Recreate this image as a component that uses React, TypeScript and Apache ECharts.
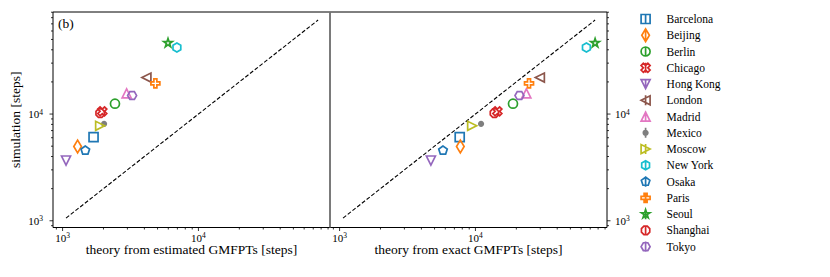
import React, { useEffect, useRef } from 'react';
import * as echarts from 'echarts';

// ---------- data ----------
const cities = ['Barcelona', 'Beijing', 'Berlin', 'Chicago', 'Hong Kong', 'London', 'Madrid', 'Mexico', 'Moscow', 'New York', 'Osaka', 'Paris', 'Seoul', 'Shanghai', 'Tokyo'];
const simulationSteps = [6080, 4960, 12500, 10600, 3670, 22000, 15600, 8100, 7760, 42000, 4560, 19400, 46300, 10200, 14900];
const estimatedTheory = [1690, 1290, 2430, 1960, 1060, 4140, 2960, 2020, 1890, 6940, 1470, 4820, 5970, 1890, 3250];
const exactTheory = [7660, 7740, 18900, 14500, 4700, 29800, 23700, 11000, 9460, 65600, 5770, 24800, 76000, 13800, 21100];
const diagonal = [1060, 76000];
const majorTicks = [1000, 10000];
const minorTicks = [900, 2000, 3000, 4000, 5000, 6000, 7000, 8000, 9000, 20000, 30000, 40000, 50000, 60000, 70000, 80000, 90000];
const xTitles = ['theory from estimated GMFPTs [steps]', 'theory from exact GMFPTs [steps]'];
const yTitle = 'simulation [steps]';
const panelLabel = '(b)';

// ---------- styles ----------
const X_MIN = 850, X_MAX = 93000, Y_MIN = 865, Y_MAX = 90400;
const FONT = '"Liberation Serif", "Times New Roman", serif';
const colors = ['#1f77b4', '#ff7f0e', '#2ca02c', '#d62728', '#9467bd', '#8c564b', '#e377c2', '#7f7f7f', '#bcbd22', '#17becf', '#1f77b4', '#ff7f0e', '#2ca02c', '#d62728', '#9467bd'];
const markers = ['square', 'thinDiamond', 'circle', 'xFilled', 'triDown', 'triLeft', 'triUp', 'point', 'triRight', 'hexagon1', 'pentagon', 'plusFilled', 'star', 'octagon', 'hexagon2'];
const MS = 9;
const BOX = 1.5;
const STROKE = 1.7;

const f = (n: number) => n.toFixed(4);
const poly = (pts: number[][]) => 'M' + pts.map(p => f(p[0]) + ' ' + f(p[1])).join(' L') + ' Z';
const regular = (n: number, r: number, startDeg: number) =>
  Array.from({ length: n }, (_, k) => {
    const a = ((startDeg + (k * 360) / n) * Math.PI) / 180;
    return [r * Math.cos(a), -r * Math.sin(a)];
  });
const circ = (r: number) => `M${f(r)} 0 A${f(r)} ${f(r)} 0 1 1 ${f(-r)} 0 A${f(r)} ${f(r)} 0 1 1 ${f(r)} 0 Z`;

function shapePath(m: string): string {
  switch (m) {
    case 'square': return poly([[-0.5, -0.5], [0.5, -0.5], [0.5, 0.5], [-0.5, 0.5]]);
    case 'thinDiamond': return poly([[0, -0.707], [0.424, 0], [0, 0.707], [-0.424, 0]]);
    case 'circle': return circ(0.5);
    case 'point': return circ(0.25);
    case 'xFilled': return poly([[-1, -2], [0, -1], [1, -2], [2, -1], [1, 0], [2, 1], [1, 2], [0, 1], [-1, 2], [-2, 1], [-1, 0], [-2, -1]].map(p => [p[0] / 4, p[1] / 4]));
    case 'plusFilled': return poly([[-1, -3], [1, -3], [1, -1], [3, -1], [3, 1], [1, 1], [1, 3], [-1, 3], [-1, 1], [-3, 1], [-3, -1], [-1, -1]].map(p => [p[0] / 6, p[1] / 6]));
    case 'triDown': return poly([[-0.5, -0.5], [0.5, -0.5], [0, 0.5]]);
    case 'triUp': return poly([[0, -0.5], [0.5, 0.5], [-0.5, 0.5]]);
    case 'triLeft': return poly([[-0.5, 0], [0.5, -0.5], [0.5, 0.5]]);
    case 'triRight': return poly([[0.5, 0], [-0.5, 0.5], [-0.5, -0.5]]);
    case 'hexagon1': return poly(regular(6, 0.5, 90));
    case 'hexagon2': return poly(regular(6, 0.5, 0));
    case 'pentagon': return poly(regular(5, 0.5, 90));
    case 'octagon': return poly(regular(8, 0.5, 22.5));
    case 'star': {
      const pts: number[][] = [];
      for (let k = 0; k < 10; k++) {
        const r = k % 2 === 0 ? 0.5 : 0.5 * 0.381966;
        const a = ((90 + k * 36) * Math.PI) / 180;
        pts.push([r * Math.cos(a), -r * Math.sin(a)]);
      }
      return poly(pts);
    }
  }
  return poly([[-0.5, -0.5], [0.5, -0.5], [0.5, 0.5], [-0.5, 0.5]]);
}
const anchor = `M${-BOX / 2} ${-BOX / 2} M${BOX / 2} ${BOX / 2} `;
const markerSymbol = (i: number) => 'path://' + anchor + shapePath(markers[i]);
const legendSymbol = (i: number) => 'path://' + anchor + shapePath(markers[i]) + ' M0 -0.56 L0 0.56';
const fillOf = (i: number) => (markers[i] === 'point' ? colors[i] : 'transparent');

const supLabel = (v: number) => {
  const e = Math.log10(v);
  if (Math.abs(e - Math.round(e)) > 1e-6) return '';
  return `{m|10}{e|${Math.round(e)}}`;
};
const richLabel = {
  m: { fontFamily: FONT, fontSize: 11, color: '#000', lineHeight: 12 },
  e: { fontFamily: FONT, fontSize: 7.5, color: '#000', lineHeight: 7, verticalAlign: 'top' },
};

function tickSeries(grid: number, side: 'bottom' | 'left' | 'right') {
  const isX = side === 'bottom';
  const lo = isX ? X_MIN : Y_MIN;
  const hi = isX ? X_MAX : Y_MAX;
  const all = [...majorTicks.map(v => [v, 3.5]), ...minorTicks.map(v => [v, 2])].filter(t => t[0] >= lo && t[0] <= hi);
  return {
    type: 'custom',
    name: 'ticks' + grid + side,
    xAxisIndex: grid,
    yAxisIndex: grid,
    silent: true,
    clip: false,
    z: 10,
    data: all.map(t => (isX ? [t[0], 1000, t[1]] : [1000, t[0], t[1]])),
    renderItem: (params: any, api: any) => {
      const pt = api.coord([api.value(0), api.value(1)]);
      const len = api.value(2);
      const cs = params.coordSys;
      let shape;
      if (side === 'bottom') {
        const yb = cs.y + cs.height;
        shape = { x1: pt[0], y1: yb, x2: pt[0], y2: yb + len };
      } else if (side === 'left') {
        shape = { x1: cs.x, y1: pt[1], x2: cs.x - len, y2: pt[1] };
      } else {
        const xr = cs.x + cs.width;
        shape = { x1: xr, y1: pt[1], x2: xr + len, y2: pt[1] };
      }
      return { type: 'line', shape, style: { stroke: '#000', lineWidth: 0.8 } };
    },
  };
}

function buildOption() {
  const grids = [
    { left: 53, top: 12, width: 277, height: 215.5, show: true, borderColor: '#000', borderWidth: 1, outerBoundsMode: 'none' },
    { left: 330, top: 12, width: 277, height: 215.5, show: true, borderColor: '#000', borderWidth: 1, outerBoundsMode: 'none' },
  ];
  const xAxes = [0, 1].map(g => ({
    type: 'log',
    gridIndex: g,
    min: X_MIN,
    max: X_MAX,
    name: xTitles[g],
    nameLocation: 'middle',
    nameGap: 15,
    nameMoveOverlap: false,
    nameTextStyle: { fontFamily: FONT, fontSize: 13.5, color: '#000', verticalAlign: 'top', lineHeight: 14 },
    axisLine: { show: false },
    axisTick: { show: false },
    splitLine: { show: false },
    minorTick: { show: false },
    axisLabel: { formatter: supLabel, rich: richLabel, margin: 4, showMinLabel: false, showMaxLabel: false, hideOverlap: false },
  }));
  const yAxes = [0, 1].map(g => ({
    type: 'log',
    gridIndex: g,
    min: Y_MIN,
    max: Y_MAX,
    position: g === 0 ? 'left' : 'right',
    name: g === 0 ? yTitle : '',
    nameLocation: 'middle',
    nameGap: 31,
    nameMoveOverlap: false,
    nameTextStyle: { fontFamily: FONT, fontSize: 13.5, color: '#000' },
    axisLine: { show: false },
    axisTick: { show: false },
    splitLine: { show: false },
    minorTick: { show: false },
    axisLabel: { formatter: supLabel, rich: richLabel, margin: g === 0 ? 10 : 8, showMinLabel: false, showMaxLabel: false, hideOverlap: false },
  }));

  const series: any[] = [];
  [0, 1].forEach(g => {
    series.push({
      type: 'line',
      name: 'diag' + g,
      xAxisIndex: g,
      yAxisIndex: g,
      data: diagonal.map(v => [v, v]),
      symbol: 'none',
      silent: true,
      lineStyle: { color: '#000', width: 1.1, type: [4, 2] },
      z: 2,
    });
  });
  [0, 1].forEach(g => {
    const xs = g === 0 ? estimatedTheory : exactTheory;
    cities.forEach((c, i) => {
      series.push({
        type: 'scatter',
        name: c,
        xAxisIndex: g,
        yAxisIndex: g,
        data: [[xs[i], simulationSteps[i]]],
        symbol: markerSymbol(i),
        symbolSize: MS * BOX,
        silent: true,
        itemStyle: { color: fillOf(i), borderColor: colors[i], borderWidth: STROKE, opacity: 1 },
        z: 3,
      });
    });
  });
  series.push(tickSeries(0, 'bottom'), tickSeries(0, 'left'), tickSeries(1, 'bottom'), tickSeries(1, 'right'));

  return {
    animation: false,
    backgroundColor: '#fff',
    grid: grids,
    xAxis: xAxes,
    yAxis: yAxes,
    legend: {
      orient: 'vertical',
      left: 638,
      top: 11.4,
      height: 262,
      padding: 0,
      itemWidth: 32,
      itemHeight: MS * BOX,
      itemGap: 1.06,
      selectedMode: false,
      textStyle: { fontFamily: FONT, fontSize: 11.5, color: '#000', lineHeight: 13 },
      data: cities.map((c, i) => ({
        name: c,
        icon: legendSymbol(i),
        itemStyle: { color: fillOf(i), borderColor: colors[i], borderWidth: STROKE, opacity: 1 },
      })),
    },
    graphic: [
      {
        type: 'text',
        left: 58,
        top: 16.5,
        style: { text: panelLabel, fontFamily: FONT, fontSize: 13.5, fill: '#000' },
        z: 100,
      },
      {
        type: 'line',
        shape: { x1: 330, y1: 12, x2: 330, y2: 227.5 },
        style: { stroke: '#8a8a8a', lineWidth: 1.6 },
        z: 100,
      },
    ],
    series,
  };
}

export default function App() {
  const ref = useRef<HTMLDivElement>(null);
  useEffect(() => {
    const chart = echarts.init(ref.current as HTMLDivElement, undefined, { renderer: 'svg' });
    chart.setOption(buildOption() as any);
    return () => chart.dispose();
  }, []);
  return <div ref={ref} style={{ position: 'fixed', left: 0, top: 0, width: 830, height: 277, background: '#fff' }} />;
}
